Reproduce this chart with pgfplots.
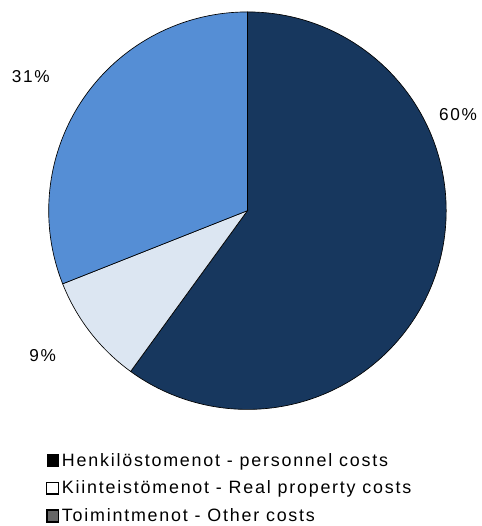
\documentclass[border=0pt]{standalone}
\usepackage{pgfplots}
\pgfplotsset{compat=1.18}
\usepackage{pgfplotstable}
\usepackage{fontspec}
\setmainfont{Liberation Sans}
\newfontfamily\chartfont[LetterSpace=10]{Liberation Sans}
\definecolor{slicedark}{HTML}{17375E}
\definecolor{slicelight}{HTML}{DCE6F2}
\definecolor{slicemid}{HTML}{558ED5}

% share of each cost type, percent
\pgfplotstableread{
value
60
9
31
}\costs
\pgfplotstablegetelem{0}{value}\of\costs \let\vA\pgfplotsretval
\pgfplotstablegetelem{1}{value}\of\costs \let\vB\pgfplotsretval
\pgfplotstablegetelem{2}{value}\of\costs \let\vC\pgfplotsretval
\pgfmathsetmacro\aA{90-3.6*\vA}
\pgfmathsetmacro\aB{\aA-3.6*\vB}
\pgfmathsetmacro\aC{\aB-3.6*\vC}

\begin{document}
\begin{tikzpicture}
\begin{axis}[
    hide axis, scale only axis,
    width=363.75pt, height=394.5pt,
    xmin=0, xmax=485, ymin=0, ymax=526,
    legend cell align=left,
    legend style={draw=none, fill=none, font=\chartfont\fontsize{13.5}{15}\selectfont,
        at={(axis cs:46,73)}, anchor=north west,
        row sep=5.6pt, inner sep=0pt,
        /tikz/every even column/.append style={column sep=2.5pt}},
]
\path (axis cs:0,0) rectangle (axis cs:485,526);
\fill[slicedark, draw=black, line width=0.5pt] (axis cs:249,314) -- ++(90:150pt) arc[start angle=90, end angle=\aA, radius=150pt] -- cycle;
\fill[slicelight, draw=black, line width=0.5pt] (axis cs:249,314) -- ++(\aA:150pt) arc[start angle=\aA, end angle=\aB, radius=150pt] -- cycle;
\fill[slicemid, draw=black, line width=0.5pt] (axis cs:249,314) -- ++(\aB:150pt) arc[start angle=\aB, end angle=\aC, radius=150pt] -- cycle;
\node[font=\chartfont\fontsize{13}{15}\selectfont] at (axis cs:461,411) {\vA\%};
\node[font=\chartfont\fontsize{13}{15}\selectfont] at (axis cs:43,168) {\vB\%};
\node[font=\chartfont\fontsize{13}{15}\selectfont] at (axis cs:31,449) {\vC\%};
\addlegendimage{legend image code/.code={\draw[black, fill=black] (0pt,-4.4pt) rectangle (8.8pt,4.4pt);}}
\addlegendentry{Henkilöstomenot - personnel costs}
\addlegendimage{legend image code/.code={\draw[black, fill=white, line width=0.9pt] (0pt,-4.4pt) rectangle (8.8pt,4.4pt);}}
\addlegendentry{Kiinteistömenot - Real property costs}
\addlegendimage{legend image code/.code={\draw[black, fill=black!60, line width=1.2pt] (0pt,-4.4pt) rectangle (8.8pt,4.4pt);}}
\addlegendentry{Toimintmenot - Other costs}
\end{axis}
\end{tikzpicture}
\end{document}
